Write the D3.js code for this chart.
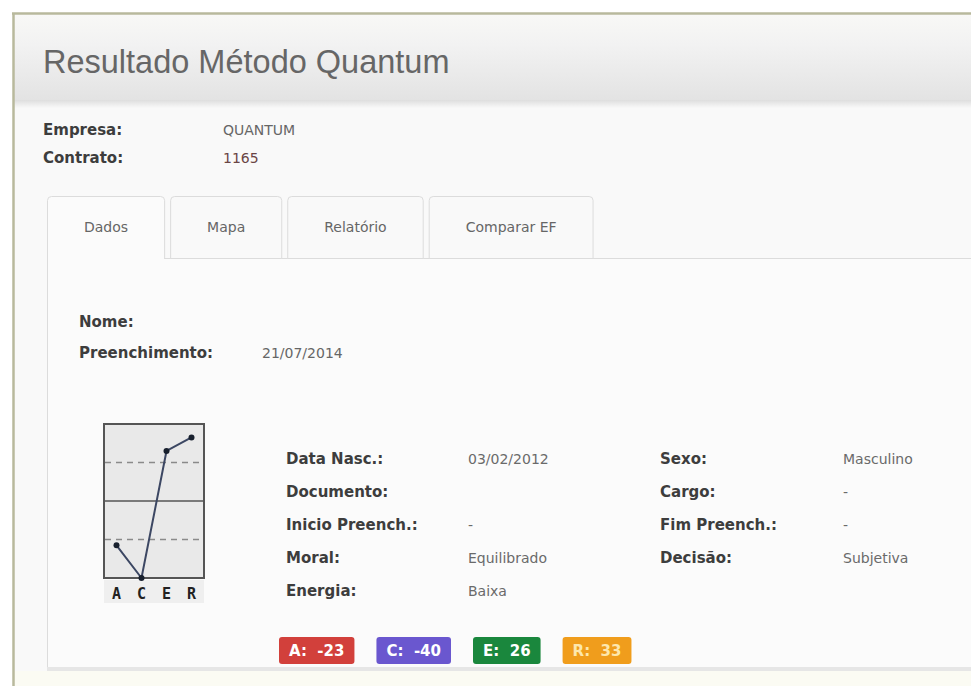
<!DOCTYPE html>
<html>
<head>
<meta charset="utf-8">
<script src="https://cdn.jsdelivr.net/npm/d3@7"></script>
<style>
  body { margin: 0; background: #fff; }
  svg { display: block; }
  text { white-space: pre; }
</style>
</head>
<body>
<svg id="page" width="971" height="686"></svg>
<script>
// values
const factors = ['A', 'C', 'E', 'R'];
const scores = [-23, -40, 26, 33];
const badge_colors = ['#d2403b', '#6a57cf', '#1a873d', '#f09d1c'];
const badge_text_colors = ['#ffffff', '#ffffff', '#ffffff', '#fde7ad'];
const tabs = ['Dados', 'Mapa', 'Relatório', 'Comparar EF'];
const header_labels = ['Empresa:', 'Contrato:'];
const header_values = ['QUANTUM', '1165'];
const person_labels = ['Nome:', 'Preenchimento:'];
const person_values = ['', '21/07/2014'];
const left_labels = ['Data Nasc.:', 'Documento:', 'Inicio Preench.:', 'Moral:', 'Energia:'];
const left_values = ['03/02/2012', '', '-', 'Equilibrado', 'Baixa'];
const right_labels = ['Sexo:', 'Cargo:', 'Fim Preench.:', 'Decisão:'];
const right_values = ['Masculino', '-', '-', 'Subjetiva'];

const font = '"DejaVu Sans", Verdana, sans-serif';
const svg = d3.select('#page');
const defs = svg.append('defs');

// header gradient
const grad = defs.append('linearGradient').attr('id', 'head').attr('x1', 0).attr('y1', 0).attr('x2', 0).attr('y2', 1);
grad.append('stop').attr('offset', '0%').attr('stop-color', '#f8f8f6');
grad.append('stop').attr('offset', '35%').attr('stop-color', '#f2f2f2');
grad.append('stop').attr('offset', '100%').attr('stop-color', '#e3e3e3');
const shadow = defs.append('linearGradient').attr('id', 'shade').attr('x1', 0).attr('y1', 0).attr('x2', 0).attr('y2', 1);
shadow.append('stop').attr('offset', '0%').attr('stop-color', '#dedede');
shadow.append('stop').attr('offset', '100%').attr('stop-color', '#f9f9f9');

// outer panel
svg.append('rect').attr('x', 14).attr('y', 14).attr('width', 960).attr('height', 680).attr('fill', '#f9f9f9');
svg.append('rect').attr('x', 14).attr('y', 671).attr('width', 960).attr('height', 20).attr('fill', '#fbfbf3');
svg.append('rect').attr('x', 14).attr('y', 15).attr('width', 960).attr('height', 85).attr('fill', 'url(#head)');
svg.append('rect').attr('x', 14).attr('y', 100).attr('width', 960).attr('height', 8).attr('fill', 'url(#shade)');
svg.append('line').attr('x1', 12).attr('x2', 971).attr('y1', 13.5).attr('y2', 13.5).attr('stroke', '#b8b99c').attr('stroke-width', 2.5);
svg.append('line').attr('x1', 13.5).attr('x2', 13.5).attr('y1', 13).attr('y2', 686).attr('stroke', '#b8b99c').attr('stroke-width', 2.5);

svg.append('text').attr('x', 43).attr('y', 73)
  .attr('font-family', '"Liberation Sans", Arial, sans-serif').attr('font-size', 32.5)
  .attr('fill', '#666').text('Resultado Método Quantum');

// Empresa / Contrato
const head_rows = svg.append('g').attr('font-family', font).attr('font-size', 15);
header_labels.forEach((l, i) => {
  const y = 130 + i * 28;
  head_rows.append('text').attr('x', 43).attr('y', y).attr('dy', '0.36em')
    .attr('font-weight', 'bold').attr('fill', '#3d3d3d').text(l);
  head_rows.append('text').attr('x', 223).attr('y', y).attr('dy', '0.36em')
    .attr('fill', i === 1 ? '#6a4545' : '#666').attr('font-size', 14).text(header_values[i]);
});

// content box + tabs
const tab_top = 196, tab_bottom = 258, box_left = 47;
svg.append('rect').attr('x', box_left + 0.5).attr('y', tab_bottom + 0.5).attr('width', 1000).attr('height', 409)
  .attr('fill', '#fbfbfb').attr('stroke', '#dcdcdc');
svg.append('rect').attr('x', box_left).attr('y', 667).attr('width', 1000).attr('height', 4).attr('fill', '#e6e6e6');

const tab_g = svg.append('g').attr('font-family', font).attr('font-size', 14);
let tx = box_left;
tabs.forEach((t, i) => {
  const g = tab_g.append('g');
  const path = g.append('path');
  const label = g.append('text').attr('y', 227).attr('dy', '0.36em')
    .attr('text-anchor', 'middle').attr('fill', '#666').text(t);
  const w = label.node().getComputedTextLength() + 74;
  const x0 = tx + 0.5, x1 = tx + w - 0.5, y0 = tab_top + 0.5, y1 = tab_bottom + (i === 0 ? 1 : 0.5), r = 4;
  path.attr('d', `M${x0},${y1} V${y0 + r} Q${x0},${y0} ${x0 + r},${y0} H${x1 - r} Q${x1},${y0} ${x1},${y0 + r} V${y1}` + (i === 0 ? '' : 'Z'))
    .attr('fill', i === 0 ? '#fbfbfb' : '#f9f9f9').attr('stroke', '#dcdcdc');
  label.attr('x', tx + w / 2);
  tx += w + 5;
});

// Nome / Preenchimento
const pg = svg.append('g').attr('font-family', font).attr('font-size', 15);
person_labels.forEach((l, i) => {
  const y = 322 + i * 31;
  pg.append('text').attr('x', 79).attr('y', y).attr('dy', '0.36em').attr('font-weight', 'bold').attr('fill', '#3d3d3d').text(l);
  pg.append('text').attr('x', 262).attr('y', y).attr('dy', '0.36em').attr('font-size', 14).attr('fill', '#666').text(person_values[i]);
});

// ACER mini chart
const cx0 = 104, cx1 = 204, cy0 = 424, cy1 = 578;
const x = d3.scalePoint().domain(factors).range([cx0, cx1]).padding(0.5);
const y = d3.scaleLinear().domain([-40, 40]).range([cy1, cy0]);
const chart = svg.append('g');
chart.append('rect').attr('x', cx0).attr('y', cy0).attr('width', cx1 - cx0).attr('height', cy1 - cy0)
  .attr('fill', '#e9e9e9').attr('stroke', '#555').attr('stroke-width', 2);
chart.append('rect').attr('x', cx0).attr('y', cy1 + 2).attr('width', cx1 - cx0).attr('height', 23).attr('fill', '#efefef');
chart.selectAll('.grid').data([20, -20]).enter().append('line')
  .attr('x1', cx0 + 1).attr('x2', cx1 - 1).attr('y1', d => y(d)).attr('y2', d => y(d))
  .attr('stroke', '#8a8a8a').attr('stroke-width', 1.5).attr('stroke-dasharray', '6,5');
chart.append('line').attr('x1', cx0).attr('x2', cx1).attr('y1', y(0)).attr('y2', y(0))
  .attr('stroke', '#555').attr('stroke-width', 1.5);
const pts = factors.map((f, i) => ({ f, v: scores[i] }));
chart.append('path').datum(pts)
  .attr('d', d3.line().x(d => x(d.f)).y(d => y(d.v)))
  .attr('fill', 'none').attr('stroke', '#3c4763').attr('stroke-width', 2);
chart.selectAll('circle').data(pts).enter().append('circle')
  .attr('cx', d => x(d.f)).attr('cy', d => y(d.v)).attr('r', 3).attr('fill', '#18202e');
chart.selectAll('.lbl').data(factors).enter().append('text')
  .attr('x', d => x(d)).attr('y', 594).attr('dy', '0.36em').attr('text-anchor', 'middle')
  .attr('font-family', '"DejaVu Sans Mono", monospace').attr('font-weight', 'bold').attr('font-size', 15)
  .attr('fill', '#222').text(d => d);

// detail columns
const rows = svg.append('g').attr('font-family', font).attr('font-size', 15);
const row_y = i => 459 + i * 33;
function column(labels, values, lx, vx) {
  labels.forEach((l, i) => {
    rows.append('text').attr('x', lx).attr('y', row_y(i)).attr('dy', '0.36em').attr('font-weight', 'bold').attr('fill', '#3d3d3d').text(l);
    rows.append('text').attr('x', vx).attr('y', row_y(i)).attr('dy', '0.36em').attr('font-size', 14).attr('fill', '#6a6a6a').text(values[i]);
  });
}
column(left_labels, left_values, 286, 468);
column(right_labels, right_values, 660, 843);

// score badges
const bg = svg.append('g').attr('font-family', font).attr('font-size', 15).attr('font-weight', 'bold');
let bx = 279;
factors.forEach((f, i) => {
  const g = bg.append('g');
  const rect = g.append('rect');
  const t = g.append('text').attr('y', 651).attr('dy', '0.36em').attr('fill', badge_text_colors[i])
    .text(f + ':  ' + scores[i]);
  const w = t.node().getComputedTextLength() + 20;
  rect.attr('x', bx).attr('y', 637).attr('width', w).attr('height', 27).attr('rx', 3).attr('fill', badge_colors[i]);
  t.attr('x', bx + 10);
  bx += w + 22;
});
</script>
</body>
</html>
